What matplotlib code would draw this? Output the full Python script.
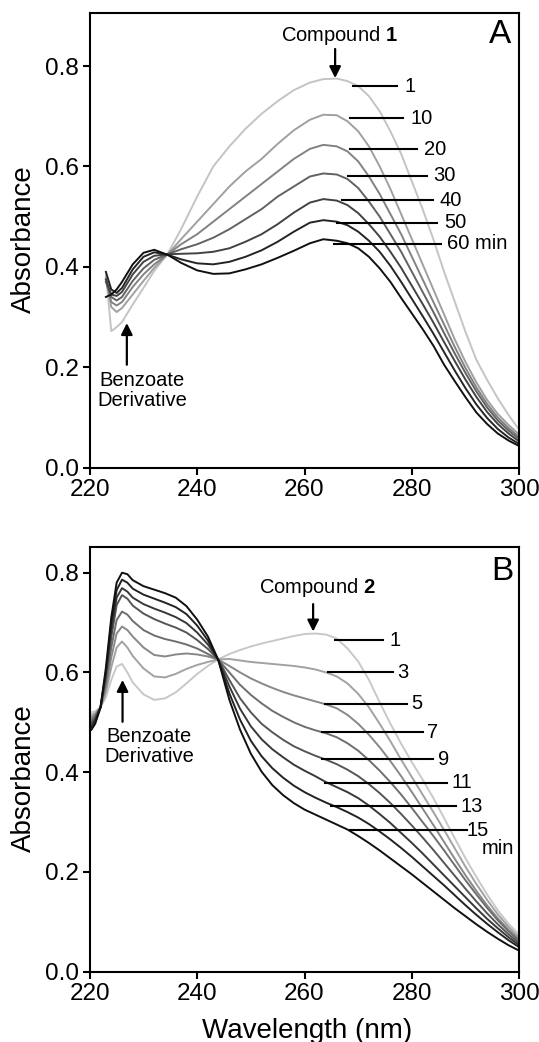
import matplotlib
matplotlib.use('Agg')
import matplotlib.pyplot as plt

plt.rcParams['font.family'] = ['Liberation Sans', 'DejaVu Sans']
plt.rcParams['mathtext.fontset'] = 'custom'
plt.rcParams['mathtext.rm'] = 'Liberation Sans'
plt.rcParams['mathtext.bf'] = 'Liberation Sans:bold'

# ---- panel A: compound 1, spectra at 1..60 min ----
wl_a = [223, 224, 225, 226, 228, 230, 232, 234.5, 237, 240, 243, 246, 249, 252, 255, 258, 261, 263.5,
        266, 268, 270, 272, 274, 276, 278, 280, 282, 284, 286, 288, 290, 292, 294, 296, 298, 300]
times_a = ['1', '10', '20', '30', '40', '50', '60 min']
abs_a_1 = [0.385, 0.272, 0.28, 0.29, 0.325, 0.358, 0.392, 0.426, 0.475, 0.54, 0.60, 0.64, 0.675, 0.705, 0.73, 0.752, 0.767, 0.774,
           0.775, 0.77, 0.76, 0.74, 0.71, 0.67, 0.625, 0.57, 0.515, 0.455, 0.39, 0.33, 0.27, 0.215, 0.175, 0.138, 0.105, 0.075]
abs_a_10 = [0.38, 0.32, 0.31, 0.318, 0.345, 0.372, 0.398, 0.425, 0.455, 0.49, 0.525, 0.56, 0.59, 0.615, 0.645, 0.672, 0.693, 0.703,
            0.702, 0.69, 0.67, 0.64, 0.60, 0.555, 0.505, 0.455, 0.405, 0.355, 0.305, 0.255, 0.21, 0.17, 0.135, 0.107, 0.085, 0.066]
abs_a_20 = [0.375, 0.33, 0.323, 0.33, 0.36, 0.385, 0.405, 0.425, 0.445, 0.465, 0.49, 0.515, 0.54, 0.565, 0.59, 0.615, 0.635, 0.643,
            0.64, 0.63, 0.61, 0.58, 0.545, 0.505, 0.465, 0.42, 0.375, 0.33, 0.285, 0.24, 0.198, 0.16, 0.127, 0.10, 0.079, 0.061]
abs_a_30 = [0.37, 0.34, 0.333, 0.34, 0.372, 0.397, 0.414, 0.425, 0.435, 0.445, 0.458, 0.475, 0.495, 0.515, 0.54, 0.56, 0.58, 0.586,
            0.584, 0.575, 0.557, 0.53, 0.50, 0.465, 0.43, 0.39, 0.35, 0.31, 0.268, 0.227, 0.188, 0.152, 0.12, 0.094, 0.074, 0.057]
abs_a_40 = [0.375, 0.345, 0.342, 0.35, 0.385, 0.41, 0.422, 0.425, 0.426, 0.427, 0.43, 0.437, 0.45, 0.465, 0.485, 0.508, 0.528, 0.535,
            0.532, 0.523, 0.507, 0.485, 0.46, 0.43, 0.398, 0.362, 0.326, 0.289, 0.25, 0.212, 0.175, 0.141, 0.111, 0.087, 0.068, 0.052]
abs_a_50 = [0.39, 0.355, 0.348, 0.358, 0.395, 0.42, 0.429, 0.424, 0.415, 0.407, 0.405, 0.41, 0.42, 0.433, 0.45, 0.47, 0.488, 0.493,
            0.49, 0.483, 0.47, 0.452, 0.43, 0.402, 0.37, 0.336, 0.302, 0.267, 0.23, 0.193, 0.158, 0.126, 0.099, 0.077, 0.06, 0.047]
abs_a_60 = [0.34, 0.345, 0.355, 0.37, 0.405, 0.428, 0.434, 0.424, 0.408, 0.393, 0.386, 0.387, 0.395, 0.405, 0.418, 0.432, 0.447, 0.455,
            0.452, 0.447, 0.437, 0.42, 0.397, 0.37, 0.338, 0.307, 0.276, 0.243, 0.205, 0.172, 0.14, 0.11, 0.087, 0.068, 0.054, 0.043]
series_a = [abs_a_1, abs_a_10, abs_a_20, abs_a_30, abs_a_40, abs_a_50, abs_a_60]
# level of each label leader line
label_y_a = [0.76, 0.696, 0.634, 0.581, 0.533, 0.488, 0.446]

# ---- panel B: compound 2, spectra at 1..15 min ----
wl_b = [220.3, 221, 222, 223, 224, 225, 226, 227, 228, 230, 232, 234, 236, 238, 240, 242, 243.9, 246, 248, 250, 252,
        254, 256, 258, 260, 262, 264, 266, 268, 270, 272, 274, 276, 278, 280, 282, 284, 286, 288, 290, 292, 294, 296, 298, 300]
times_b = ['1', '3', '5', '7', '9', '11', '13', '15']
abs_b_1 = [0.52, 0.522, 0.53, 0.55, 0.585, 0.612, 0.617, 0.60, 0.58, 0.556, 0.545, 0.548, 0.56, 0.578, 0.597, 0.613, 0.626, 0.637, 0.645, 0.652, 0.658,
           0.663, 0.668, 0.673, 0.677, 0.678, 0.676, 0.668, 0.648, 0.622, 0.585, 0.54, 0.497, 0.457, 0.42, 0.385, 0.348, 0.308, 0.267, 0.227, 0.19, 0.155, 0.123, 0.096, 0.074]
abs_b_3 = [0.515, 0.518, 0.53, 0.56, 0.61, 0.65, 0.662, 0.65, 0.633, 0.608, 0.592, 0.59, 0.597, 0.607, 0.615, 0.621, 0.626, 0.627, 0.624, 0.621, 0.619,
           0.617, 0.615, 0.613, 0.61, 0.606, 0.60, 0.592, 0.578, 0.557, 0.53, 0.497, 0.462, 0.425, 0.39, 0.355, 0.32, 0.284, 0.247, 0.21, 0.176, 0.144, 0.115, 0.09, 0.068]
abs_b_5 = [0.51, 0.515, 0.53, 0.57, 0.63, 0.678, 0.692, 0.685, 0.672, 0.65, 0.635, 0.632, 0.636, 0.638, 0.636, 0.632, 0.626, 0.613, 0.60, 0.588, 0.578,
           0.569, 0.561, 0.554, 0.548, 0.542, 0.536, 0.528, 0.515, 0.497, 0.475, 0.45, 0.422, 0.392, 0.36, 0.327, 0.294, 0.26, 0.226, 0.193, 0.162, 0.133, 0.107, 0.084, 0.064]
abs_b_7 = [0.505, 0.512, 0.53, 0.58, 0.65, 0.705, 0.722, 0.716, 0.703, 0.685, 0.674, 0.667, 0.662, 0.656, 0.648, 0.637, 0.626, 0.60, 0.575, 0.555, 0.538,
           0.523, 0.511, 0.50, 0.491, 0.484, 0.478, 0.47, 0.458, 0.443, 0.424, 0.403, 0.38, 0.355, 0.328, 0.30, 0.272, 0.243, 0.213, 0.183, 0.155, 0.128, 0.103, 0.081, 0.061]
abs_b_9 = [0.50, 0.508, 0.53, 0.59, 0.67, 0.735, 0.755, 0.748, 0.734, 0.718, 0.707, 0.698, 0.69, 0.68, 0.665, 0.647, 0.626, 0.585, 0.548, 0.52, 0.497,
           0.48, 0.465, 0.452, 0.442, 0.433, 0.425, 0.416, 0.405, 0.392, 0.376, 0.358, 0.338, 0.316, 0.293, 0.269, 0.244, 0.218, 0.192, 0.166, 0.141, 0.117, 0.095, 0.075, 0.057]
abs_b_11 = [0.495, 0.505, 0.53, 0.60, 0.685, 0.75, 0.769, 0.762, 0.75, 0.737, 0.728, 0.72, 0.711, 0.699, 0.68, 0.656, 0.626, 0.572, 0.527, 0.492, 0.466,
            0.446, 0.43, 0.415, 0.403, 0.392, 0.38, 0.37, 0.36, 0.348, 0.333, 0.316, 0.298, 0.278, 0.258, 0.237, 0.215, 0.193, 0.171, 0.149, 0.127, 0.106, 0.087, 0.069, 0.053]
abs_b_13 = [0.49, 0.50, 0.53, 0.60, 0.70, 0.765, 0.786, 0.78, 0.768, 0.756, 0.748, 0.74, 0.731, 0.717, 0.694, 0.664, 0.626, 0.558, 0.505, 0.463, 0.432,
            0.408, 0.389, 0.373, 0.36, 0.349, 0.339, 0.33, 0.32, 0.309, 0.296, 0.281, 0.265, 0.248, 0.23, 0.211, 0.192, 0.173, 0.153, 0.133, 0.114, 0.096, 0.079, 0.063, 0.049]
abs_b_15 = [0.485, 0.497, 0.53, 0.61, 0.71, 0.78, 0.80, 0.797, 0.785, 0.773, 0.766, 0.759, 0.75, 0.733, 0.706, 0.672, 0.626, 0.545, 0.485, 0.437, 0.401,
            0.374, 0.354, 0.338, 0.325, 0.315, 0.305, 0.295, 0.285, 0.272, 0.258, 0.243, 0.227, 0.211, 0.195, 0.178, 0.161, 0.144, 0.127, 0.111, 0.095, 0.08, 0.066, 0.053, 0.042]
series_b = [abs_b_1, abs_b_3, abs_b_5, abs_b_7, abs_b_9, abs_b_11, abs_b_13, abs_b_15]
label_y_b = [0.665, 0.600, 0.537, 0.48, 0.426, 0.379, 0.332, 0.284]

xticks = [220, 240, 260, 280, 300]
yticks = [0.0, 0.2, 0.4, 0.6, 0.8]

grays_a = ['#c4c4c4', '#a0a0a0', '#828282', '#626262', '#424242', '#242424', '#101010']
grays_b = ['#c8c8c8', '#a2a2a2', '#888888', '#6e6e6e', '#555555', '#383838', '#222222', '#101010']

fig = plt.figure(figsize=(5.39, 10.42), dpi=100)
axA = fig.add_axes([0.1666, 0.5512, 0.7968, 0.4360])
axB = fig.add_axes([0.1666, 0.0675, 0.7968, 0.4073])


def style(ax, ytop):
    ax.set_xlim(220, 300)
    ax.set_ylim(0, ytop)
    ax.set_xticks(xticks)
    ax.set_yticks(yticks)
    ax.set_yticklabels([f'{t:.1f}' for t in yticks])
    ax.tick_params(direction='out', length=5, width=1.5, pad=3, labelsize=17.5, top=False, right=False)
    for s in ax.spines.values():
        s.set_linewidth(1.5)


def arrow(ax, x, y0, y1):
    ax.annotate('', xy=(x, y1), xytext=(x, y0),
                arrowprops=dict(arrowstyle='-|>', color='black', lw=1.6, mutation_scale=17,
                                shrinkA=0, shrinkB=0))


# panel A
for vals, c in zip(series_a, grays_a):
    axA.plot(wl_a, vals, color=c, lw=1.4)
lines_a = [(269.1, 277.2, 278.6), (268.5, 278.4, 279.8), (268.5, 280.9, 282.3), (268.1, 282.8, 284.0),
           (266.9, 284.0, 285.2), (266.0, 284.6, 286.0), (265.4, 285.5, 286.6)]
for (x0, x1, xt), yl, lab in zip(lines_a, label_y_a, times_a):
    axA.plot([x0, x1], [yl, yl], color='black', lw=1.5)
    axA.text(xt, yl, lab, fontsize=14.5, ha='left', va='center')
axA.text(266.4, 0.86, r'Compound $\mathbf{1}$', fontsize=14.5, ha='center', va='center')
arrow(axA, 265.7, 0.834, 0.776)
axA.text(229.8, 0.154, 'Benzoate\nDerivative', fontsize=14.5, ha='center', va='center', linespacing=1.05)
arrow(axA, 226.9, 0.205, 0.288)
axA.text(296.5, 0.862, 'A', fontsize=24, ha='center', va='center')
style(axA, 0.905)

# panel B
for vals, c in zip(series_b, grays_b):
    axB.plot(wl_b, vals, color=c, lw=1.4)
lines_b = [(265.7, 274.7, 275.9), (264.4, 276.5, 277.3), (263.8, 279.0, 279.8), (263.2, 282.1, 282.9),
           (263.2, 284.0, 284.8), (263.8, 286.5, 287.3), (265.0, 288.3, 289.1), (268.5, 290.2, 290.1)]
for (x0, x1, xt), yl, lab in zip(lines_b, label_y_b, times_b):
    axB.plot([x0, x1], [yl, yl], color='black', lw=1.5)
    axB.text(xt, yl, lab, fontsize=14.5, ha='left', va='center')
axB.text(293.0, 0.247, 'min', fontsize=14.5, ha='left', va='center')
axB.text(262.3, 0.770, r'Compound $\mathbf{2}$', fontsize=14.5, ha='center', va='center')
arrow(axB, 261.6, 0.737, 0.682)
axB.text(231.0, 0.452, 'Benzoate\nDerivative', fontsize=14.5, ha='center', va='center', linespacing=1.05)
arrow(axB, 226.1, 0.501, 0.585)
axB.text(296.8, 0.803, 'B', fontsize=24, ha='center', va='center')
style(axB, 0.851)

fig.text(24 / 539, 1 - 239 / 1042, 'Absorbance', rotation=90, ha='center', va='center', fontsize=20)
fig.text(24 / 539, 1 - 778 / 1042, 'Absorbance', rotation=90, ha='center', va='center', fontsize=20)
fig.text(307 / 539, 1 - 1031 / 1042, 'Wavelength (nm)', ha='center', va='center', fontsize=20)

fig.savefig('out.png', dpi=100)
